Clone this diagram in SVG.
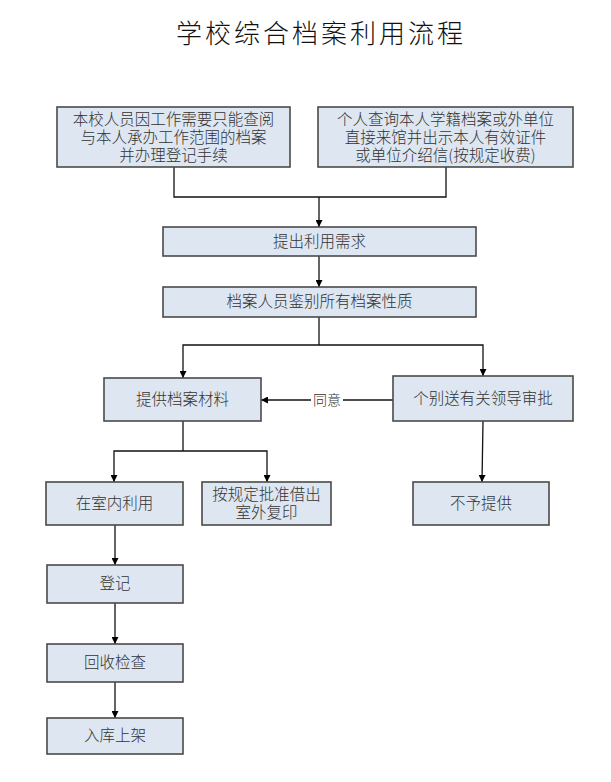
<svg xmlns="http://www.w3.org/2000/svg" width="611" height="782" viewBox="0 0 611 782">
<defs>
<marker id="ah" viewBox="0 0 10 10" refX="10" refY="5" markerWidth="7" markerHeight="7" markerUnits="userSpaceOnUse" orient="auto">
<path d="M0,0 L10,5 L0,10 z" fill="#000"/>
</marker>
</defs>
<style>
.box{fill:#dde6f1;stroke:#4a4a4a;stroke-width:1.6}
.t{font-family:"Noto Sans CJK SC","Noto Sans",sans-serif;font-size:15.5px;fill:#333;text-anchor:middle;font-weight:300}
.c{fill:none;stroke:#111;stroke-width:1.3}
.ca{fill:none;stroke:#111;stroke-width:1.3;marker-end:url(#ah)}
.title{font-family:"Noto Sans CJK SC","Noto Sans",sans-serif;font-size:26px;fill:#111;text-anchor:middle;letter-spacing:3px;font-weight:300}
</style>
<rect width="611" height="782" fill="#fff"/>
<text class="title" x="321" y="43">学校综合档案利用流程</text>

<g id="connectors">
<polyline class="c" points="174,167 174,197 446,197 446,167"/>
<line class="ca" x1="319" y1="197" x2="319" y2="227"/>
<line class="ca" x1="319" y1="256" x2="319" y2="287"/>
<polyline class="c" points="319,317 319,345"/>
<polyline class="ca" points="319,345 183,345 183,378"/>
<polyline class="ca" points="319,345 483,345 483,376"/>
<line class="ca" x1="393" y1="400" x2="261" y2="400"/>
<rect x="311" y="391" width="32" height="18" fill="#fff"/>
<text class="t" x="327" y="405" style="font-size:14px">同意</text>
<polyline class="c" points="183,421 183,451"/>
<polyline class="ca" points="183,451 114,451 114,482"/>
<polyline class="ca" points="183,451 267,451 267,482"/>
<line class="ca" x1="483" y1="421" x2="482" y2="482"/>
<line class="ca" x1="115" y1="525" x2="115" y2="565"/>
<line class="ca" x1="115" y1="603" x2="115" y2="644"/>
<line class="ca" x1="115" y1="682" x2="115" y2="718"/>
</g>

<g id="n1">
<rect class="box" x="57" y="107" width="233" height="60"/>
<text class="t" x="173.5" y="125">本校人员因工作需要只能查阅</text>
<text class="t" x="173.5" y="143">与本人承办工作范围的档案</text>
<text class="t" x="173.5" y="161">并办理登记手续</text>
</g>
<g id="n2">
<rect class="box" x="318" y="107" width="255" height="60"/>
<text class="t" x="445.5" y="125">个人查询本人学籍档案或外单位</text>
<text class="t" x="445.5" y="143">直接来馆并出示本人有效证件</text>
<text class="t" x="445.5" y="161">或单位介绍信(按规定收费)</text>
</g>
<g id="n3">
<rect class="box" x="163" y="227" width="313" height="29"/>
<text class="t" x="319.5" y="247">提出利用需求</text>
</g>
<g id="n4">
<rect class="box" x="163" y="287" width="313" height="30"/>
<text class="t" x="319.5" y="307">档案人员鉴别所有档案性质</text>
</g>
<g id="n5">
<rect class="box" x="104" y="378" width="157" height="43"/>
<text class="t" x="182.5" y="405">提供档案材料</text>
</g>
<g id="n6">
<rect class="box" x="393" y="376" width="180" height="45"/>
<text class="t" x="483" y="404">个别送有关领导审批</text>
</g>
<g id="n7">
<rect class="box" x="46" y="482" width="137" height="43"/>
<text class="t" x="114.5" y="509">在室内利用</text>
</g>
<g id="n8">
<rect class="box" x="202" y="482" width="129" height="43"/>
<text class="t" x="266.5" y="500">按规定批准借出</text>
<text class="t" x="266.5" y="518">室外复印</text>
</g>
<g id="n9">
<rect class="box" x="413" y="482" width="136" height="43"/>
<text class="t" x="481" y="509">不予提供</text>
</g>
<g id="n10">
<rect class="box" x="47" y="565" width="136" height="38"/>
<text class="t" x="115" y="589">登记</text>
</g>
<g id="n11">
<rect class="box" x="47" y="644" width="136" height="38"/>
<text class="t" x="115" y="668">回收检查</text>
</g>
<g id="n12">
<rect class="box" x="47" y="718" width="136" height="36"/>
<text class="t" x="115" y="741">入库上架</text>
</g>
</svg>
